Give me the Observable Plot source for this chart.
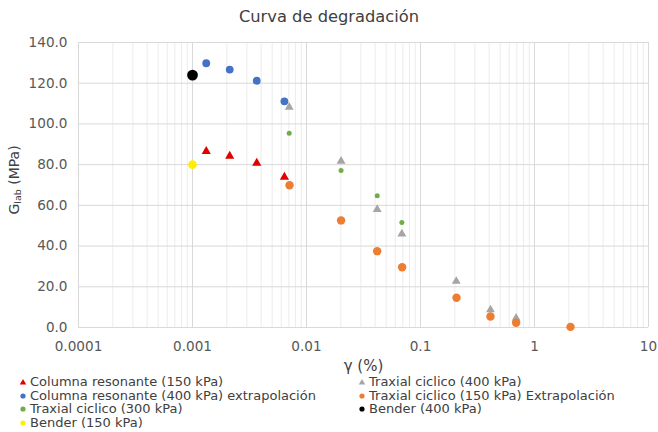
<!DOCTYPE html>
<html>
<head>
<meta charset="utf-8">
<script src="https://cdn.jsdelivr.net/npm/d3@7"></script>
<script src="https://cdn.jsdelivr.net/npm/@observablehq/plot@0.6"></script>
<style>
  html, body { margin: 0; padding: 0; background: #fff; }
  body { width: 658px; height: 432px; overflow: hidden; font-family: "DejaVu Sans", sans-serif; }
  #title { height: 32px; line-height: 34px; text-align: center; font-size: 16.3px; color: #404040; }
  #chart svg { display: block; }
  #legend { display: grid; grid-template-columns: 339px 300px; padding-left: 19px; font-size: 13px; line-height: 13.7px; color: #404040; }
  #legend .item { display: flex; align-items: center; white-space: nowrap; }
  #legend svg { margin-right: 3px; flex: none; }
</style>
</head>
<body>
<div id="title">Curva de degradación</div>
<div id="chart"></div>
<div id="legend"></div>
<script>
// ---- data ----
const xCR = [0.00132, 0.00212, 0.00366, 0.0064];           // Columna resonante strains (%)
const gCR150 = [86.5, 84.2, 80.8, 73.9];                   // Columna resonante (150 kPa)
const gCR400 = [129.8, 126.7, 121.2, 111.1];               // Columna resonante (400 kPa) extrapolación
const xTX300 = [0.00705, 0.0201, 0.0417, 0.0686];
const gTX300 = [95.4, 77.1, 64.7, 51.6];                   // Traxial ciclico (300 kPa)
const xTX400 = [0.00705, 0.0201, 0.0417, 0.0686, 0.206, 0.411, 0.69];
const gTX400 = [108.2, 81.7, 58.0, 46.0, 22.7, 8.7, 4.6];  // Traxial ciclico (400 kPa)
const xTX150 = [0.0071, 0.0201, 0.0417, 0.069, 0.207, 0.411, 0.69, 2.07];
const gTX150 = [69.9, 52.6, 37.5, 29.6, 14.6, 5.4, 2.3, 0.3]; // Traxial ciclico (150 kPa) Extrapolación
const xBender = [0.001];
const gBender150 = [80.0];
const gBender400 = [124.0];

const xTicks = [0.0001, 0.001, 0.01, 0.1, 1, 10];
const xTickLabels = ["0.0001", "0.001", "0.01", "0.1", "1", "10"];
const yTicks = [0, 20, 40, 60, 80, 100, 120, 140];

const seriesNames = [
  "Columna resonante (150 kPa)",
  "Traxial ciclico (400 kPa)",
  "Columna resonante (400 kPa) extrapolación",
  "Traxial ciclico (150 kPa) Extrapolación",
  "Traxial ciclico (300 kPa)",
  "Bender (400 kPa)",
  "Bender (150 kPa)"
];
const seriesColors = ["#e00000", "#a5a5a5", "#4472c4", "#ed7d31", "#70ad47", "#000000", "#ffee00"];
const seriesSymbols = ["triangle", "triangle", "circle", "circle", "circle", "circle", "circle"];

// minor log grid positions
const minorX = [];
for (let i = 0; i < xTicks.length - 1; i++) for (let k = 2; k <= 9; k++) minorX.push(xTicks[i] * k);

const pts = (xs, ys) => xs.map((x, i) => ({x, y: ys[i]}));

const plot = Plot.plot({
  width: 658,
  height: 343,
  marginTop: 10,
  marginBottom: 48,
  marginLeft: 78,
  marginRight: 10,
  x: {type: "log", domain: [0.0001, 10]},
  y: {domain: [0, 140]},
  style: {fontFamily: "DejaVu Sans", fontSize: "13.6px", color: "#595959", background: "transparent", overflow: "visible"},
  marks: [
    Plot.ruleX(minorX, {stroke: "#ececec", strokeWidth: 1}),
    Plot.ruleX(xTicks, {stroke: "#d9d9d9", strokeWidth: 1}),
    Plot.ruleY(yTicks, {stroke: "#d9d9d9", strokeWidth: 1}),
    Plot.axisX({ticks: xTicks, tickFormat: (d) => xTickLabels[xTicks.indexOf(d)], tickSize: 0, tickPadding: 14, label: null, fill: "#595959"}),
    Plot.axisY({ticks: yTicks, tickFormat: d => d.toFixed(1), tickSize: 0, tickPadding: 11, label: null, fill: "#595959"}),
    Plot.dot(pts(xCR, gCR150), {x: "x", y: "y", symbol: "triangle", r: 3.4, fill: seriesColors[0]}),
    Plot.dot(pts(xCR, gCR400), {x: "x", y: "y", r: 3.9, fill: seriesColors[2]}),
    Plot.dot(pts(xTX300, gTX300), {x: "x", y: "y", r: 2.5, fill: seriesColors[4]}),
    Plot.dot(pts(xBender, gBender150), {x: "x", y: "y", r: 4.3, fill: seriesColors[6]}),
    Plot.dot(pts(xTX400, gTX400), {x: "x", y: "y", symbol: "triangle", r: 3.3, fill: seriesColors[1]}),
    Plot.dot(pts(xTX150, gTX150), {x: "x", y: "y", r: 4.2, fill: seriesColors[3]}),
    Plot.dot(pts(xBender, gBender400), {x: "x", y: "y", r: 5.4, fill: seriesColors[5]}),
    Plot.text(["γ (%)"], {frameAnchor: "bottom", dy: 39, lineAnchor: "middle", text: d => d, fill: "#404040", fontSize: 15})
  ]
});
document.getElementById("chart").appendChild(plot);

// y-axis label with subscript
const yl = d3.select(plot).append("text")
  .attr("transform", "translate(15,148) rotate(-90)")
  .attr("text-anchor", "middle")
  .attr("dominant-baseline", "middle")
  .attr("fill", "#404040")
  .attr("font-size", 14);
yl.append("tspan").text("G");
yl.append("tspan").attr("font-size", 9.5).attr("dy", 3).text("lab");
yl.append("tspan").attr("dy", -3).text(" (MPa)");

// legend
const legend = d3.select("#legend");
seriesNames.forEach((name, i) => {
  const item = legend.append("div").attr("class", "item");
  const s = item.append("svg").attr("width", 8).attr("height", 8);
  if (seriesSymbols[i] === "triangle") {
    s.append("path").attr("d", d3.symbol(d3.symbolTriangle, 18)()).attr("transform", "translate(4,4.6)").attr("fill", seriesColors[i]);
  } else {
    s.append("circle").attr("cx", 4).attr("cy", 4).attr("r", 2.6).attr("fill", seriesColors[i]);
  }
  item.append("span").text(name);
});
</script>
</body>
</html>
